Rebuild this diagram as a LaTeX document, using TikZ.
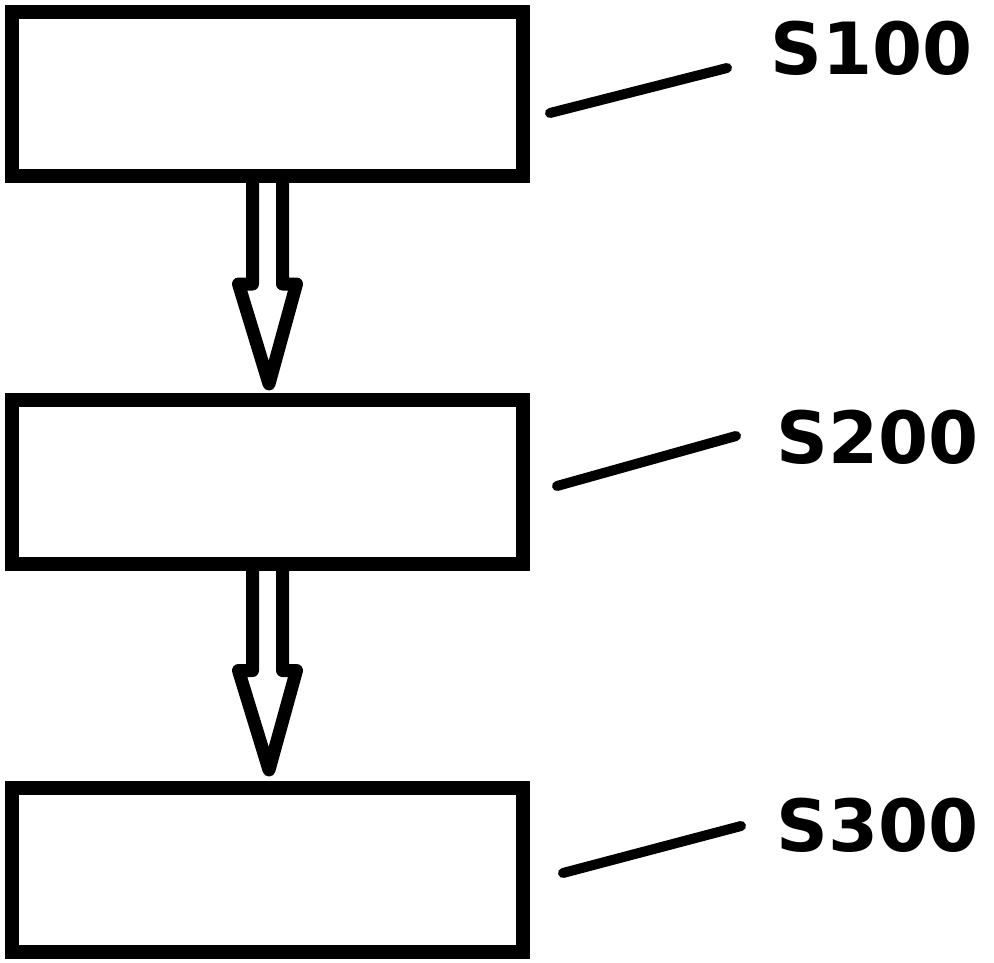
\documentclass[tikz,border=0pt]{standalone}
\usepackage{fontspec}
\setmainfont{DejaVu Sans}
\usetikzlibrary{calc}
\begin{document}
\begin{tikzpicture}[x=1pt,y=-1pt,
  stepbox/.style={draw,line width=14pt,minimum width=511pt,minimum height=164pt,inner sep=0pt,outer sep=0pt},
  lbl/.style={anchor=west,inner sep=0pt,font=\fontsize{72}{80}\selectfont\bfseries},
  leader/.style={line width=10pt,line cap=round},
  blockarrow/.style={line width=13pt,line join=round}]
\useasboundingbox (0,0) rectangle (994,963);
\node[stepbox] (b1) at (267.5,94) {};
\node[stepbox] (b2) at (267.5,481.5) {};
\node[stepbox] (b3) at (267.5,870) {};
\node[lbl] (l1) at (770,48) {S100};
\node[lbl] (l2) at (776,437) {S200};
\node[lbl] (l3) at (776,825) {S300};
\coordinate (a1) at (550,113);
\coordinate (e1) at (727,68);
\coordinate (a2) at (557,486);
\coordinate (e2) at (736,436);
\coordinate (a3) at (563,873);
\coordinate (e3) at (741,826);
\draw[leader] (a1) -- (e1);
\draw[leader] (a2) -- (e2);
\draw[leader] (a3) -- (e3);
\draw[blockarrow] ($(b1.south)+(-15,0)$) -- ++(0,108) -- ++(-14,0) -- ($(b2.north)+(1.5,-15.5)$) -- ($(b1.south)+(29,108)$) -- ++(-14,0) -- ($(b1.south)+(15,0)$);
\draw[blockarrow] ($(b2.south)+(-15,0)$) -- ++(0,107) -- ++(-14,0) -- ($(b3.north)+(1.5,-18)$) -- ($(b2.south)+(29,107)$) -- ++(-14,0) -- ($(b2.south)+(15,0)$);
\end{tikzpicture}
\end{document}
